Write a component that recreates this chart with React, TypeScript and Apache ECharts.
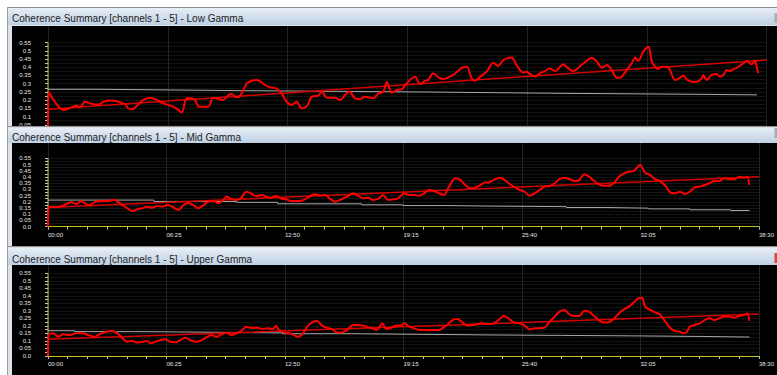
import React, { useEffect, useRef } from 'react';
import * as echarts from 'echarts';

// ---------- data ----------
const TITLES = [
  'Coherence Summary [channels 1 - 5] - Low Gamma',
  'Coherence Summary [channels 1 - 5] - Mid Gamma',
  'Coherence Summary [channels 1 - 5] - Upper Gamma',
];

const TIME_MAX = 2310; // 38:30 (seconds)
const TIME_STEP = 385; // 06:25 (seconds)

// the top panel is cut off just below 0.05, so its 0.0 label is not shown
const Y_LABEL_VALUES_TOP = [0.05, 0.1, 0.15, 0.2, 0.25, 0.3, 0.35, 0.4, 0.45, 0.5, 0.55];
const Y_LABEL_VALUES = [0, 0.05, 0.1, 0.15, 0.2, 0.25, 0.3, 0.35, 0.4, 0.45, 0.5, 0.55];
const Y_TICK_VALUES = [
  0, 0.025, 0.05, 0.075, 0.1, 0.125, 0.15, 0.175, 0.2, 0.225, 0.25, 0.275,
  0.3, 0.325, 0.35, 0.375, 0.4, 0.425, 0.45, 0.475, 0.5, 0.525, 0.55,
];
const Y_AXIS_SPAN = [[0, 0], [0, 0.55]];

// [seconds, coherence]
const LOW_COHERENCE = [
  [0, 0], [2, 0.251], [22, 0.19], [49, 0.14], [76, 0.156], [92, 0.168], [103, 0.156], [119, 0.19], [135, 0.181],
  [156, 0.172], [167, 0.176], [178, 0.19], [199, 0.197], [221, 0.195], [237, 0.181], [248, 0.176], [258, 0.15],
  [274, 0.146], [285, 0.164], [306, 0.201], [328, 0.213], [338, 0.211], [349, 0.201], [371, 0.181], [387, 0.17],
  [403, 0.16], [419, 0.14], [430, 0.124], [446, 0.211], [462, 0.211], [472, 0.201], [486, 0.16], [515, 0.16],
  [531, 0.215], [547, 0.207], [563, 0.201], [580, 0.231], [590, 0.237], [606, 0.217], [617, 0.225], [628, 0.262],
  [639, 0.302], [655, 0.318], [671, 0.322], [681, 0.316], [697, 0.292], [714, 0.278], [735, 0.27], [751, 0.241],
  [767, 0.19], [783, 0.17], [799, 0.19], [815, 0.15], [832, 0.164], [848, 0.221], [869, 0.227], [880, 0.252],
  [896, 0.215], [922, 0.215], [939, 0.201], [955, 0.231], [968, 0.252], [987, 0.211], [1003, 0.207], [1019, 0.221],
  [1035, 0.215], [1046, 0.211], [1062, 0.241], [1078, 0.252], [1089, 0.31], [1105, 0.245], [1121, 0.262],
  [1137, 0.266], [1153, 0.302], [1169, 0.332], [1180, 0.342], [1196, 0.296], [1212, 0.318], [1222, 0.322],
  [1238, 0.363], [1255, 0.339], [1271, 0.328], [1287, 0.339], [1303, 0.353], [1319, 0.379], [1330, 0.397],
  [1346, 0.403], [1362, 0.332], [1372, 0.318], [1389, 0.343], [1410, 0.373], [1431, 0.428], [1447, 0.408],
  [1464, 0.444], [1490, 0.46], [1506, 0.413], [1517, 0.383], [1528, 0.367], [1539, 0.373], [1549, 0.359],
  [1565, 0.343], [1581, 0.363], [1597, 0.377], [1613, 0.393], [1630, 0.377], [1656, 0.418], [1672, 0.393],
  [1688, 0.377], [1721, 0.424], [1748, 0.458], [1764, 0.434], [1780, 0.397], [1796, 0.413], [1812, 0.383],
  [1828, 0.336], [1838, 0.336], [1860, 0.383], [1876, 0.424], [1887, 0.458], [1897, 0.438], [1913, 0.495],
  [1930, 0.525], [1940, 0.438], [1951, 0.403], [1962, 0.389], [1972, 0.403], [1989, 0.403], [1999, 0.383],
  [2015, 0.322], [2031, 0.336], [2042, 0.349], [2053, 0.326], [2069, 0.312], [2085, 0.312], [2101, 0.332],
  [2106, 0.353], [2117, 0.322], [2133, 0.353], [2149, 0.359], [2160, 0.343], [2171, 0.353], [2181, 0.383],
  [2192, 0.377], [2203, 0.387], [2219, 0.403], [2235, 0.424], [2246, 0.438], [2262, 0.418], [2272, 0.438],
  [2278, 0.403], [2283, 0.363],
];
const LOW_TREND = [[0, 0.144], [2310, 0.444]];
const LOW_BASELINE = [
  [0, 0.266], [164, 0.262], [379, 0.258], [595, 0.255], [810, 0.252], [1025, 0.249], [1241, 0.245],
  [1456, 0.241], [1671, 0.238], [1887, 0.235], [2102, 0.232], [2279, 0.232],
];

const MID_COHERENCE = [
  [0, 0], [2, 0.153], [12, 0.161], [28, 0.156], [44, 0.166], [60, 0.182], [76, 0.196], [92, 0.182], [108, 0.207],
  [124, 0.182], [135, 0.174], [151, 0.196], [167, 0.207], [183, 0.207], [199, 0.207], [215, 0.217], [226, 0.201],
  [242, 0.174], [258, 0.148], [274, 0.126], [290, 0.14], [306, 0.148], [322, 0.161], [338, 0.153], [355, 0.166],
  [371, 0.161], [387, 0.174], [403, 0.161], [424, 0.134], [440, 0.174], [456, 0.193], [472, 0.174], [489, 0.148],
  [505, 0.174], [521, 0.201], [537, 0.207], [553, 0.188], [569, 0.215], [580, 0.241], [596, 0.223], [612, 0.215],
  [628, 0.233], [644, 0.281], [660, 0.268], [676, 0.247], [697, 0.255], [708, 0.241], [724, 0.233], [740, 0.247],
  [756, 0.228], [772, 0.223], [789, 0.207], [805, 0.207], [821, 0.207], [837, 0.223], [853, 0.249], [869, 0.26],
  [885, 0.249], [901, 0.255], [917, 0.223], [933, 0.201], [949, 0.215], [971, 0.241], [992, 0.268], [1008, 0.249],
  [1024, 0.228], [1040, 0.233], [1056, 0.215], [1072, 0.223], [1089, 0.255], [1105, 0.215], [1121, 0.22],
  [1137, 0.228], [1158, 0.268], [1174, 0.255], [1190, 0.255], [1206, 0.249], [1222, 0.268], [1238, 0.295],
  [1255, 0.287], [1271, 0.268], [1287, 0.255], [1303, 0.322], [1324, 0.389], [1340, 0.375], [1356, 0.335],
  [1372, 0.309], [1389, 0.314], [1405, 0.335], [1421, 0.357], [1431, 0.354], [1447, 0.375], [1469, 0.394],
  [1485, 0.375], [1501, 0.341], [1517, 0.318], [1533, 0.295], [1549, 0.281], [1565, 0.249], [1581, 0.268],
  [1597, 0.295], [1613, 0.322], [1630, 0.327], [1646, 0.349], [1662, 0.383], [1678, 0.394], [1694, 0.383],
  [1710, 0.367], [1726, 0.375], [1742, 0.421], [1758, 0.402], [1774, 0.367], [1790, 0.341], [1806, 0.33],
  [1822, 0.33], [1838, 0.349], [1855, 0.402], [1871, 0.429], [1887, 0.442], [1903, 0.448], [1924, 0.496],
  [1940, 0.434], [1956, 0.416], [1972, 0.383], [1988, 0.367], [2004, 0.335], [2021, 0.276], [2037, 0.268],
  [2053, 0.281], [2069, 0.263], [2085, 0.281], [2101, 0.316], [2117, 0.322], [2133, 0.335], [2149, 0.349],
  [2165, 0.367], [2181, 0.367], [2197, 0.389], [2213, 0.383], [2230, 0.381], [2246, 0.402], [2262, 0.394],
  [2272, 0.402], [2278, 0.335],
];
const MID_TREND = [[0, 0.155], [2310, 0.402]];
const MID_BASELINE = [
  [0, 0.214], [344, 0.203], [612, 0.196], [746, 0.184], [1019, 0.176], [1154, 0.17], [1286, 0.166],
  [1421, 0.161], [1684, 0.154], [1816, 0.149], [1951, 0.143], [2086, 0.136], [2218, 0.13], [2279, 0.13],
];

const UPPER_COHERENCE = [
  [0, 0], [2, 0.14], [17, 0.151], [33, 0.128], [49, 0.144], [71, 0.14], [92, 0.151], [113, 0.151], [130, 0.14],
  [151, 0.128], [167, 0.144], [183, 0.157], [205, 0.166], [221, 0.157], [237, 0.128], [258, 0.095], [274, 0.1],
  [290, 0.089], [306, 0.095], [322, 0.1], [333, 0.084], [349, 0.095], [365, 0.106], [381, 0.111], [397, 0.095],
  [414, 0.091], [430, 0.106], [446, 0.122], [462, 0.106], [478, 0.095], [494, 0.1], [510, 0.118], [531, 0.14],
  [547, 0.128], [563, 0.144], [580, 0.155], [596, 0.14], [612, 0.151], [628, 0.166], [644, 0.195], [660, 0.188],
  [681, 0.188], [697, 0.18], [714, 0.184], [730, 0.18], [740, 0.199], [751, 0.173], [767, 0.157], [783, 0.151],
  [799, 0.14], [810, 0.128], [826, 0.144], [842, 0.195], [858, 0.224], [874, 0.233], [890, 0.202], [906, 0.188],
  [922, 0.18], [939, 0.157], [955, 0.157], [971, 0.173], [992, 0.206], [1008, 0.206], [1024, 0.202], [1040, 0.191],
  [1056, 0.184], [1067, 0.173], [1078, 0.195], [1086, 0.217], [1099, 0.18], [1115, 0.188], [1131, 0.202],
  [1147, 0.202], [1158, 0.217], [1174, 0.195], [1190, 0.184], [1206, 0.173], [1222, 0.173], [1238, 0.173],
  [1255, 0.173], [1271, 0.173], [1281, 0.184], [1297, 0.206], [1314, 0.239], [1330, 0.246], [1346, 0.224],
  [1362, 0.202], [1378, 0.206], [1394, 0.211], [1410, 0.217], [1431, 0.213], [1447, 0.217], [1464, 0.239],
  [1480, 0.266], [1496, 0.251], [1512, 0.224], [1533, 0.217], [1549, 0.202], [1565, 0.177], [1581, 0.184],
  [1597, 0.184], [1613, 0.188], [1630, 0.228], [1646, 0.262], [1662, 0.295], [1678, 0.306], [1694, 0.277],
  [1710, 0.266], [1726, 0.266], [1742, 0.3], [1758, 0.295], [1774, 0.266], [1790, 0.239], [1806, 0.222],
  [1822, 0.224], [1838, 0.246], [1855, 0.284], [1871, 0.31], [1887, 0.328], [1903, 0.357], [1919, 0.384],
  [1930, 0.388], [1940, 0.328], [1956, 0.306], [1972, 0.29], [1988, 0.277], [2004, 0.233], [2021, 0.188],
  [2037, 0.166], [2053, 0.162], [2063, 0.151], [2074, 0.157], [2085, 0.195], [2101, 0.206], [2117, 0.217],
  [2133, 0.239], [2149, 0.251], [2165, 0.239], [2181, 0.251], [2197, 0.262], [2213, 0.262], [2230, 0.255],
  [2246, 0.266], [2262, 0.273], [2272, 0.284], [2278, 0.233],
];
const UPPER_TREND = [[0, 0.111], [2310, 0.279]];
const UPPER_BASELINE = [
  [0, 0.168], [87, 0.162], [312, 0.158], [537, 0.154], [762, 0.148], [987, 0.144], [1212, 0.14],
  [1437, 0.137], [1668, 0.134], [1896, 0.13], [2121, 0.126], [2279, 0.126],
];

const PANEL_SERIES = [
  { coherence: LOW_COHERENCE, trend: LOW_TREND, baseline: LOW_BASELINE, labels: Y_LABEL_VALUES_TOP },
  { coherence: MID_COHERENCE, trend: MID_TREND, baseline: MID_BASELINE, labels: Y_LABEL_VALUES },
  { coherence: UPPER_COHERENCE, trend: UPPER_TREND, baseline: UPPER_BASELINE, labels: Y_LABEL_VALUES },
];

// ---------- layout (pixels) ----------
const PANELS = [
  { frameTop: 7, titleTop: 8, titleBottom: 25, textY: 18.5, blackTop: 26, blackBottom: 126, zeroY: 133, unitPx: 164.4, marker: '#a9adb2', markerTop: 13, markerH: 10, showX: false },
  { frameTop: 126, titleTop: 128, titleBottom: 143, textY: 137.5, blackTop: 143, blackBottom: 246, zeroY: 226.7, unitPx: 124.4, marker: '#a9adb2', markerTop: 128, markerH: 10, showX: true },
  { frameTop: 246, titleTop: 248, titleBottom: 265, textY: 259, blackTop: 265, blackBottom: 375, zeroY: 356, unitPx: 150.4, marker: '#e0443c', markerTop: 253, markerH: 10, showX: true },
];

const FONT = '"Liberation Sans", Arial, sans-serif';
const AXIS_YELLOW = '#c6c31e';

const pad2 = (n: number) => String(n).padStart(2, '0');
const fmtTime = (v: number) => {
  const m = Math.floor(v / 60);
  const s = Math.round(v - m * 60);
  return `${pad2(m)}:${pad2(s)}`;
};
const fmtY = (v: number) => (v === 0 ? '0.0' : String(Number(v.toFixed(3))));

function buildOption() {
  const grid = PANELS.map((p) => ({
    left: 48,
    width: 718.7,
    top: p.blackTop,
    height: p.zeroY - p.blackTop,
  }));

  const xAxis = PANELS.map((p, i) => ({
    gridIndex: i,
    type: 'value',
    min: 0,
    max: TIME_MAX,
    interval: TIME_STEP,
    axisLine: { show: p.showX, onZero: false, lineStyle: { color: AXIS_YELLOW, width: 1 } },
    axisTick: { show: p.showX, length: 3, lineStyle: { color: '#bdbdbd' } },
    minorTick: { show: p.showX, splitNumber: 6, length: 3, lineStyle: { color: '#bdbdbd' } },
    minorSplitLine: { show: false },
    axisLabel: {
      show: p.showX,
      formatter: fmtTime,
      color: '#e4e4e4',
      fontSize: 6,
      fontFamily: FONT,
      margin: 5,
      align: 'left',
      showMinLabel: true,
      showMaxLabel: true,
    },
    splitLine: { show: true, lineStyle: { color: '#232323', width: 1 } },
  }));

  const yAxis = PANELS.map((p, i) => ({
    gridIndex: i,
    type: 'value',
    min: 0,
    max: (p.zeroY - p.blackTop) / p.unitPx,
    interval: 0.05,
    axisLine: { show: false },
    axisTick: { show: true, customValues: Y_TICK_VALUES, length: 3, lineStyle: { color: '#c8c8c8' } },
    axisLabel: {
      customValues: PANEL_SERIES[i].labels,
      formatter: fmtY,
      color: '#e4e4e4',
      fontSize: 6,
      fontFamily: FONT,
      margin: 17,
      showMinLabel: true,
      showMaxLabel: true,
    },
    splitLine: { show: true, lineStyle: { color: '#131313', width: 1 } },
  }));

  const series: any[] = [];
  PANEL_SERIES.forEach((d, i) => {
    series.push({
      type: 'line', xAxisIndex: i, yAxisIndex: i, data: Y_AXIS_SPAN, symbol: 'none', silent: true, z: 3,
      lineStyle: { color: AXIS_YELLOW, width: 1 },
    });
    series.push({
      type: 'line', xAxisIndex: i, yAxisIndex: i, data: d.baseline, step: 'end', symbol: 'none', silent: true, z: 4,
      lineStyle: { color: '#a8a8a8', width: 1 },
    });
    series.push({
      type: 'line', xAxisIndex: i, yAxisIndex: i, data: d.trend, symbol: 'none', silent: true, z: 5,
      lineStyle: { color: '#d40000', width: 1.5 },
    });
    series.push({
      type: 'line', xAxisIndex: i, yAxisIndex: i, data: d.coherence, symbol: 'none', silent: true, z: 6,
      smooth: 0.3,
      lineStyle: { color: '#ff0000', width: 2, join: 'round' },
    });
  });

  const titleGradient = {
    type: 'linear', x: 0, y: 0, x2: 0, y2: 1,
    colorStops: [
      { offset: 0, color: '#e7eef6' },
      { offset: 1, color: '#bfd0e4' },
    ],
  };

  const graphic: any[] = [];
  PANELS.forEach((p, i) => {
    // panel body
    graphic.push({ type: 'rect', silent: true, z: -20, shape: { x: 7, y: p.frameTop, width: 770, height: p.blackBottom - p.frameTop }, style: { fill: '#dde2e8' } });
    graphic.push({ type: 'rect', silent: true, z: -15, shape: { x: 12, y: p.blackTop, width: 765, height: p.blackBottom - p.blackTop }, style: { fill: '#000000' } });
    // title section (on top, covers overflow of the panel above)
    graphic.push({ type: 'rect', silent: true, z: 50, shape: { x: 8, y: p.frameTop, width: 769, height: p.blackTop - p.frameTop }, style: { fill: '#dde2e8' } });
    graphic.push({ type: 'rect', silent: true, z: 51, shape: { x: 8, y: p.titleTop, width: 769, height: p.titleBottom - p.titleTop }, style: { fill: titleGradient } });
    graphic.push({ type: 'line', silent: true, z: 52, shape: { x1: 7, y1: p.frameTop + 0.5, x2: 777, y2: p.frameTop + 0.5 }, style: { stroke: '#8a8d91', lineWidth: 1 } });
    graphic.push({ type: 'line', silent: true, z: 52, shape: { x1: 7.5, y1: p.frameTop, x2: 7.5, y2: p.blackBottom }, style: { stroke: '#9a9da1', lineWidth: 1 } });
    graphic.push({
      type: 'text', silent: true, z: 53,
      style: { text: TITLES[i], x: 12, y: p.textY, fill: '#1c1c1c', fontSize: 10, fontFamily: FONT, verticalAlign: 'middle', align: 'left' },
    });
    graphic.push({ type: 'rect', silent: true, z: 53, shape: { x: 774.5, y: p.markerTop, width: 3, height: p.markerH }, style: { fill: p.marker } });
  });

  return {
    animation: false,
    backgroundColor: '#ffffff',
    textStyle: { fontFamily: FONT },
    grid,
    xAxis,
    yAxis,
    series,
    graphic,
  };
}

export default function App() {
  const ref = useRef<HTMLDivElement>(null);
  useEffect(() => {
    if (!ref.current) return;
    const chart = echarts.init(ref.current, undefined, { renderer: 'svg', width: 777, height: 375 });
    chart.setOption(buildOption() as any);
    return () => chart.dispose();
  }, []);
  return <div ref={ref} style={{ position: 'absolute', left: 0, top: 0, width: 777, height: 375 }} />;
}
